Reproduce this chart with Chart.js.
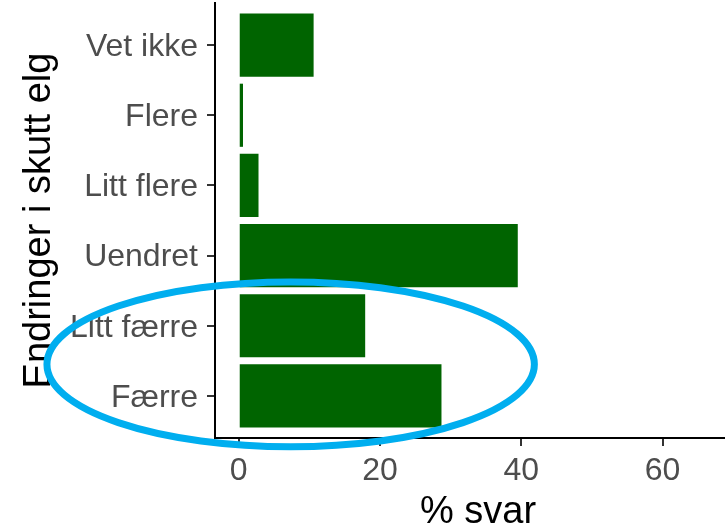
<!DOCTYPE html>
<html>
<head>
<meta charset="utf-8">
<script src="https://cdn.jsdelivr.net/npm/chart.js@4"></script>
<style>
  html, body { margin: 0; padding: 0; background: #fff; overflow: hidden; }
  #wrap { width: 741px; height: 532px; }
</style>
</head>
<body>
<div id="wrap"><canvas id="grafica"></canvas></div>
<script>
const $grafica = document.querySelector("#grafica");

// data
const kategorier = ["Vet ikke", "Flere", "Litt flere", "Uendret", "Litt færre", "Færre"];
const prosentSvar = [10.6, 0.6, 2.8, 39.5, 17.9, 28.7];
const xTicks = [0, 20, 40, 60];

// ring round the two "færre" bars (centre in data units, radii in data units)
const ring = { x: 7.35, y: 4.55, rx: 34.5, ry: 1.175 };

const fontFam = "'Liberation Sans', Arial, sans-serif";

const ringPlugin = {
    id: 'ring',
    afterDraw(chart) {
        const { ctx, scales: { x, y } } = chart;
        const cx = x.getPixelForValue(ring.x);
        const cy = y.getPixelForValue(ring.y);
        const rx = Math.abs(x.getPixelForValue(ring.x + ring.rx) - cx);
        const ry = Math.abs(y.getPixelForValue(ring.y + ring.ry) - cy);
        ctx.save();
        ctx.beginPath();
        ctx.ellipse(cx, cy, rx, ry, 0, 0, Math.PI * 2);
        ctx.lineWidth = 7;
        ctx.strokeStyle = '#00AEEF';
        ctx.stroke();
        ctx.restore();
    }
};

new Chart($grafica, {
    type: 'bar',
    data: {
        datasets: [{
            data: prosentSvar.map((v, i) => ({ x: v, y: i })),
            backgroundColor: '#006400',
            borderWidth: 0,
            barPercentage: 0.9,
            categoryPercentage: 1,
        }]
    },
    options: {
        indexAxis: 'y',
        responsive: true,
        maintainAspectRatio: false,
        animation: false,
        layout: { padding: { top: 3, right: 0, left: 0, bottom: 0 } },
        plugins: { legend: { display: false }, tooltip: { enabled: false } },
        scales: {
            x: {
                type: 'linear',
                min: -3.36,
                max: 71.1,
                afterBuildTicks: s => { s.ticks = xTicks.map(v => ({ value: v })); },
                afterFit: s => { s.height = 94; s.paddingLeft = 0; s.paddingRight = 0; },
                grid: { drawOnChartArea: false, drawTicks: true, tickLength: 8, color: '#333', lineWidth: 2 },
                border: { display: true, color: '#000', width: 2 },
                ticks: { color: '#4d4d4d', font: { family: fontFam, size: 32 }, padding: 6 },
                title: { display: true, text: '% svar', color: '#000',
                         font: { family: fontFam, size: 38, lineHeight: 1 }, padding: { top: 0, bottom: 0 } }
            },
            y: {
                type: 'linear',
                reverse: true,
                offset: false,
                min: -0.6,
                max: 5.6,
                afterBuildTicks: s => { s.ticks = kategorier.map((k, i) => ({ value: i })); },
                afterFit: s => { s.width = 215; s.paddingTop = 0; s.paddingBottom = 0; },
                grid: { offset: false, drawOnChartArea: false, drawTicks: true, tickLength: 8, color: '#333', lineWidth: 2 },
                border: { display: true, color: '#000', width: 2 },
                ticks: { color: '#4d4d4d', font: { family: fontFam, size: 32 }, padding: 9, labelOffset: 2,
                         callback: v => kategorier[v] },
                title: { display: true, text: 'Endringer i skutt elg', color: '#000',
                         font: { family: fontFam, size: 38, lineHeight: 1 }, padding: { top: 21, bottom: 0 } }
            }
        }
    },
    plugins: [ringPlugin]
});
</script>
</body>
</html>
